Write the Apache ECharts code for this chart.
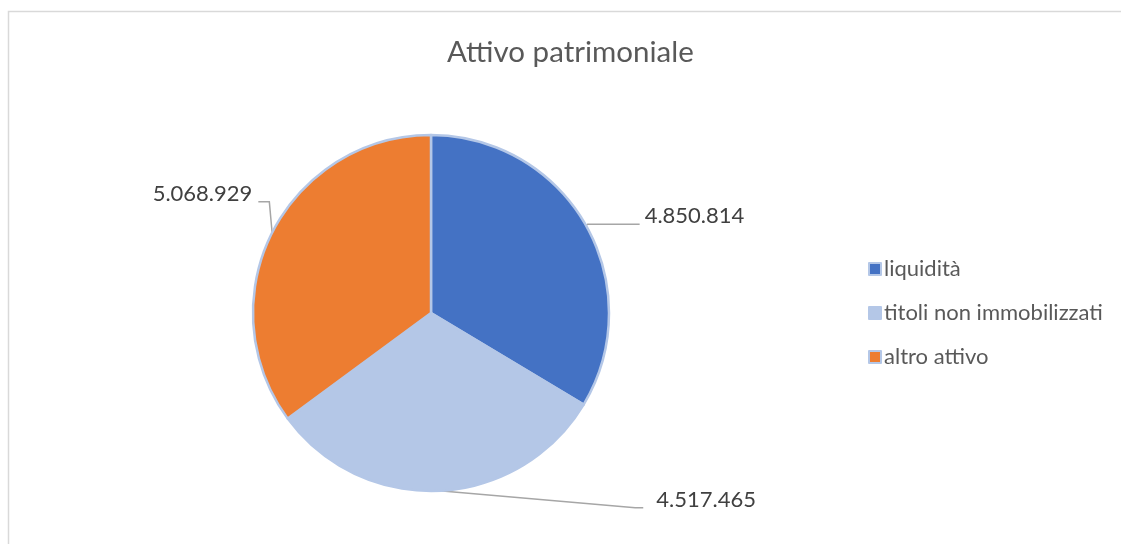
<!DOCTYPE html>
<html>
<head>
<meta charset="utf-8">
<style>
  html, body { margin: 0; padding: 0; background: #ffffff; }
  #chart { width: 1121px; height: 544px; }
</style>
<script src="https://cdn.jsdelivr.net/npm/echarts@6/dist/echarts.min.js"></script>
</head>
<body>
<div id="chart"></div>
<script>
// Composition of total assets
const titleText = 'Attivo patrimoniale';
const categories = ['liquidità', 'titoli non immobilizzati', 'altro attivo'];
const values = [4850814, 4517465, 5068929];
const valueLabels = ['4.850.814', '4.517.465', '5.068.929'];
const colors = ['#4472c4', '#b4c7e7', '#ed7d31'];

// leader line segment lengths per slice: [radial, horizontal]
const leaderLengths = [[2, 52], [17, 203], [2, 12]];
// gap between leader end and value text
const labelGaps = [5, 13, 6];
// value text sits a little above the end of its leader
const textRaise = 8;

const chart = echarts.init(document.getElementById('chart'), null, { renderer: 'canvas' });

const seriesData = categories.map((name, i) => ({
  name: name,
  value: values[i],
  itemStyle: { color: colors[i] },
  label: { distanceToLabelLine: labelGaps[i] },
  labelLine: { length: leaderLengths[i][0], length2: leaderLengths[i][1] }
}));

chart.setOption({
  backgroundColor: '#ffffff',
  animation: false,
  title: {
    text: titleText,
    left: 442,
    top: 32,
    textStyle: {
      fontFamily: 'Lato',
      fontWeight: 'normal',
      fontSize: 29.5,
      color: '#595959'
    }
  },
  legend: {
    orient: 'vertical',
    left: 863,
    top: 252,
    icon: 'rect',
    itemWidth: 12,
    itemHeight: 12,
    itemGap: 20,
    data: categories,
    textStyle: {
      fontFamily: 'Lato',
      fontSize: 22,
      lineHeight: 24,
      color: '#595959',
      padding: [0, 0, 0, -2]
    }
  },
  graphic: [{
    type: 'rect',
    silent: true,
    shape: { x: 8.5, y: 11.5, width: 1200, height: 600 },
    style: { fill: null, stroke: '#d9d9d9', lineWidth: 1.5 }
  }],
  series: [{
    type: 'pie',
    center: [431, 313],
    radius: 178,
    startAngle: 90,
    clockwise: true,
    avoidLabelOverlap: false,
    itemStyle: { borderColor: '#b4c7e7', borderWidth: 2.5 },
    label: {
      show: true,
      position: 'outside',
      formatter: (p) => valueLabels[p.dataIndex],
      fontFamily: 'Lato',
      fontSize: 22,
      color: '#404040'
    },
    labelLine: {
      show: true,
      lineStyle: { color: '#a6a6a6', width: 1.5 }
    },
    labelLayout: (params) => {
      const pts = params.labelLinePoints;
      if (!pts) return {};
      const copy = pts.map((p) => [p[0], p[1]]);
      // bottom slice: run the leader diagonally, with a short flat end
      if (params.dataIndex === 1) {
        const end = copy[copy.length - 1];
        return { dy: -textRaise, labelLinePoints: [copy[0], [end[0] - 8, end[1]], end] };
      }
      // left slice: lift the label and rise vertically from the rim
      if (params.dataIndex === 2) {
        const lift = 30;
        return {
          dy: -lift - textRaise,
          labelLinePoints: [copy[0], [copy[1][0] - 1, copy[1][1] - lift], [copy[2][0], copy[2][1] - lift]]
        };
      }
      return { dy: -textRaise, labelLinePoints: copy };
    },
    emphasis: { disabled: true },
    data: seriesData
  }]
});
</script>
</body>
</html>
